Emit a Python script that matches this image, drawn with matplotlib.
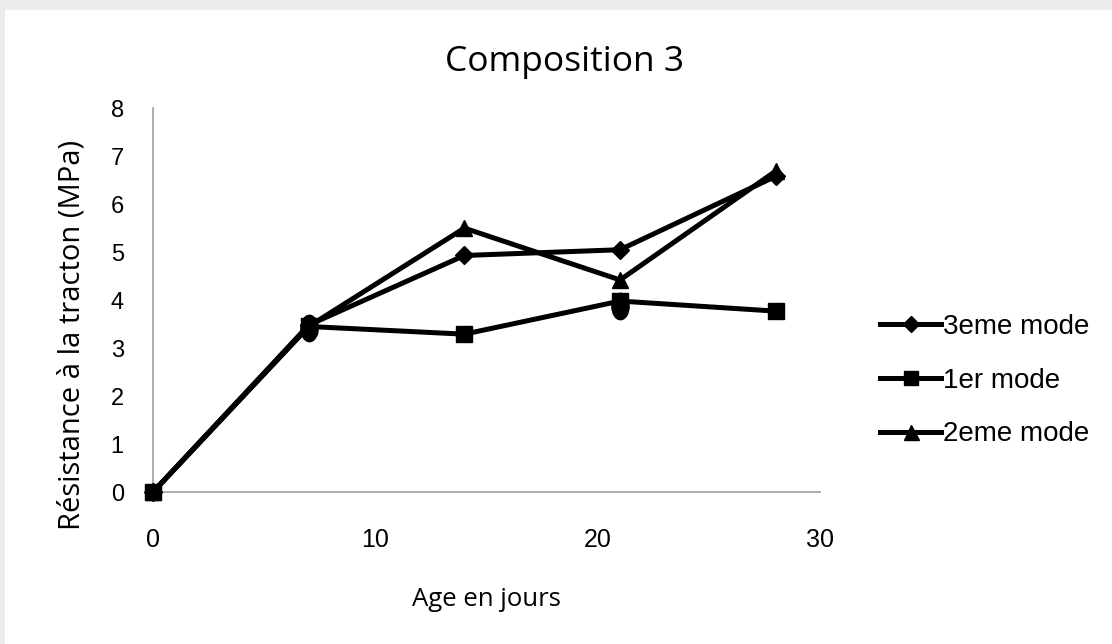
import matplotlib.pyplot as plt
import numpy as np
from matplotlib.path import Path
from matplotlib.patches import Rectangle
from matplotlib.transforms import Affine2D

# data
jours = [0, 7, 14, 21, 28]
mode3 = [0, 3.48, 4.93, 5.05, 6.58]
mode1 = [0, 3.45, 3.29, 3.98, 3.77]
mode2 = [0, 3.45, 5.50, 4.42, 6.69]
# extra rounded blobs seen at two points (not in legend)
blob_x = [7, 21]
blob_y = [3.42, 3.88]

plt.rcParams['font.family'] = ['Liberation Sans', 'DejaVu Sans']
sans2 = ['Open Sans', 'DejaVu Sans']

fig = plt.figure(figsize=(11.12, 6.44), dpi=100)
fig.patch.set_facecolor('#ececec')
bg = Rectangle((5 / 1112, 0), 1, 1 - 10 / 644, transform=fig.transFigure,
               facecolor='white', edgecolor='none', zorder=-10)
fig.add_artist(bg)

ax = fig.add_axes([0.1376, 0.236, 0.6, 0.596])
ax.set_facecolor('none')
ax.set_zorder(5)

ms = dict(color='black', linewidth=3.6, markeredgecolor='black', markerfacecolor='black',
          clip_on=False)
ax.plot(jours, mode3, marker='D', markersize=9.5, label='3eme mode', **ms)
ax.plot(jours, mode2, marker='^', markersize=12, label='2eme mode', **ms)
ax.plot(jours, mode1, marker='s', markersize=11, label='1er mode', **ms)

ellipse = Path.unit_circle().transformed(Affine2D().scale(0.65, 1.0))
ax.plot(blob_x, blob_y, linestyle='none', marker=ellipse, markersize=19, color='black')

ax.set_xlim(0, 30)
ax.set_ylim(0, 8)
ax.set_xticks([0, 10, 20, 30])
ax.set_yticks(range(0, 9))
ax.tick_params(axis='both', length=0)
ax.tick_params(axis='x', pad=26, labelsize=18)
ax.tick_params(axis='y', pad=21, labelsize=17)

for s in ['top', 'right']:
    ax.spines[s].set_visible(False)
for s in ['left', 'bottom']:
    ax.spines[s].set_color('#a6a6a6')
    ax.spines[s].set_linewidth(1.3)
    ax.spines[s].set_zorder(0)

ax.set_title('Composition 3', fontsize=25.5, family=sans2, pad=27, x=0.616)
ax.set_xlabel('Age en jours', fontsize=18.5, family=sans2, labelpad=25)
ax.set_ylabel('Résistance à la tracton (MPa)', fontsize=21, family=sans2)
ax.yaxis.set_label_coords(-0.100, 0.41)

handles, labels = ax.get_legend_handles_labels()
order = [0, 2, 1]
leg = ax.legend([handles[i] for i in order], [labels[i] for i in order],
                loc='center left', bbox_to_anchor=(1.09, 0.29), frameon=False,
                fontsize=20, handlelength=2.2, handletextpad=0.05, labelspacing=1.0,
                borderpad=0, borderaxespad=0, markerscale=0.9)

fig.savefig('out.png', dpi=100, facecolor=fig.get_facecolor())
